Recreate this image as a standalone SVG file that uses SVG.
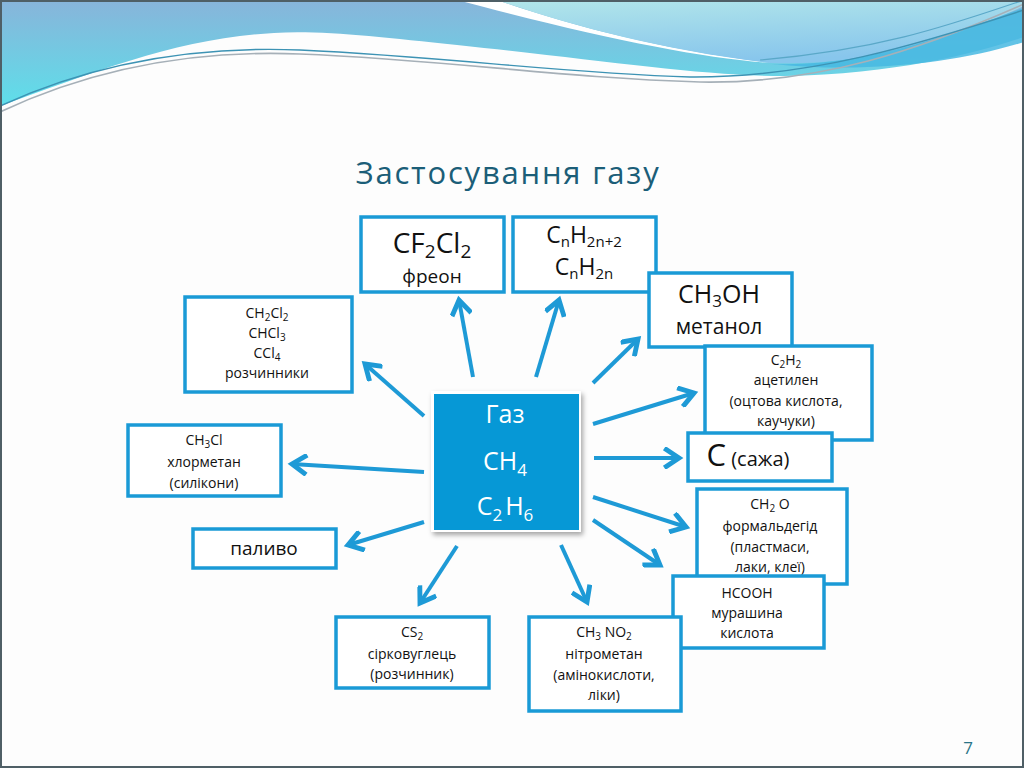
<svg xmlns="http://www.w3.org/2000/svg" width="1024" height="768" viewBox="0 0 1024 768">
<defs>
<linearGradient id="gMain" x1="0" y1="0" x2="0" y2="1">
<stop offset="0" stop-color="#88b4da"/>
<stop offset="1" stop-color="#5edfea"/>
</linearGradient>
<linearGradient id="gUR" x1="0" y1="0" x2="0.3" y2="1">
<stop offset="0" stop-color="#b2e6ea"/>
<stop offset="1" stop-color="#88c6ec"/>
</linearGradient>
<marker id="ah" markerUnits="userSpaceOnUse" markerWidth="22" markerHeight="22" viewBox="-14 -9 18 18" refX="0" refY="0" orient="auto">
<path d="M-12,-8 L0,0 L-12,8" fill="none" stroke="#1e9ad6" stroke-width="4" stroke-linejoin="miter"/>
</marker>
<filter id="sh" x="-10%" y="-10%" width="130%" height="130%">
<feDropShadow dx="2" dy="3" stdDeviation="2.5" flood-color="#000" flood-opacity="0.35"/>
</filter>
</defs>
<style>
.box{fill:#fff;stroke:#1a9ad6;stroke-width:3.5}
.t{font-family:"Open Sans","Liberation Sans",sans-serif;fill:#111;text-anchor:middle}
.s{font-size:14px}
.arr{stroke:#1e9ad6;stroke-width:4;fill:none;marker-end:url(#ah)}
.w{fill:#fff;font-family:"Open Sans","Liberation Sans",sans-serif;text-anchor:middle;font-size:25px}
</style>
<rect width="1024" height="768" fill="#fdfdfd"/>
<g id="header">
<path d="M0,0 L1024,0 L1024,37 C980,52 900,74 784,76 C700,76 600,60 457,45 C380,37 320,30 274,33 C180,38 100,70 0,106 Z" fill="url(#gMain)"/>
<path d="M457,0 L497,0 C560,22 650,48 771,63 C700,58 600,38 457,0 Z" fill="#fff"/>
<path d="M497,0 L1024,0 L1024,6 C950,40 870,66 771,63 C660,50 570,25 497,0 Z" fill="url(#gUR)"/>
<path d="M771,64 C870,68 960,30 1024,8 L1024,42 C960,62 870,74 771,64 Z" fill="#46b8e2" opacity="0.85"/>
<path d="M0,112 C100,65 200,50 300,54 C450,60 560,78 700,82 C820,84 920,50 1024,4" fill="none" stroke="#a6b0b8" stroke-width="1.6"/>
<path d="M0,106 C100,60 200,46 300,50 C450,57 560,73 690,77 C810,78 920,44 1024,10" fill="none" stroke="#3d93b4" stroke-width="1.4"/>
<path d="M760,60 C880,50 950,25 1024,0" fill="none" stroke="#5aa8c8" stroke-width="1.2"/>
</g>
<rect x="1" y="1" width="1022" height="766" fill="none" stroke="#4f5f66" stroke-width="2"/>
<text x="508" y="184" font-family="'Open Sans','Liberation Sans',sans-serif" font-size="31" letter-spacing="1.8" fill="#1b5e78" text-anchor="middle">Застосування газу</text>
<g id="connectors">
<line class="arr" x1="473" y1="377" x2="459" y2="300"/>
<line class="arr" x1="536" y1="377" x2="559" y2="300"/>
<line class="arr" x1="593" y1="383" x2="638" y2="339"/>
<line class="arr" x1="593" y1="424" x2="694" y2="393"/>
<line class="arr" x1="594" y1="458" x2="679" y2="458"/>
<line class="arr" x1="593" y1="497" x2="686" y2="527"/>
<line class="arr" x1="593" y1="520" x2="660" y2="565"/>
<line class="arr" x1="561" y1="545" x2="587" y2="602"/>
<line class="arr" x1="457" y1="546" x2="420" y2="603"/>
<line class="arr" x1="424" y1="522" x2="348" y2="545"/>
<line class="arr" x1="424" y1="472" x2="292" y2="464"/>
<line class="arr" x1="424" y1="416" x2="365" y2="364"/>
</g>
<g id="gas">
<rect x="431" y="391" width="150" height="141" fill="#fff" filter="url(#sh)"/>
<rect x="434" y="394" width="145" height="136" fill="#0698d6"/>
<text class="w" x="505" y="423">Газ</text>
<text class="w" x="505" y="470">CH<tspan font-size="17" dy="6">4</tspan></text>
<text class="w" x="505" y="515">C<tspan font-size="17" dy="6">2</tspan><tspan dx="3" dy="-6">H</tspan><tspan font-size="17" dy="6">6</tspan></text>
</g>
<g id="freon">
<rect class="box" x="361" y="217" width="143" height="75"/>
<text class="t" x="432" y="253" font-size="28">CF<tspan font-size="19" dy="5">2</tspan><tspan dy="-5">Cl</tspan><tspan font-size="19" dy="5">2</tspan></text>
<text class="t" x="432" y="283" font-size="19">фреон</text>
</g>
<g id="alkanes">
<rect class="box" x="513" y="217" width="143" height="75"/>
<text class="t" x="584" y="243" font-size="23">C<tspan font-size="15" dy="4">n</tspan><tspan dy="-4">H</tspan><tspan font-size="15" dy="4">2n+2</tspan></text>
<text class="t" x="584" y="275" font-size="23">C<tspan font-size="15" dy="4">n</tspan><tspan dy="-4">H</tspan><tspan font-size="15" dy="4">2n</tspan></text>
</g>
<g id="methanol">
<rect class="box" x="649" y="273" width="143" height="74"/>
<text class="t" x="719" y="303" font-size="25">CH<tspan font-size="17" dy="4">3</tspan><tspan dy="-4">OH</tspan></text>
<text class="t" x="719" y="334" font-size="21">метанол</text>
</g>
<g id="acetylene">
<rect class="box" x="705" y="346" width="167" height="94"/>
<text class="t s" x="786" y="365">C<tspan font-size="10" dy="3">2</tspan><tspan dy="-3">H</tspan><tspan font-size="10" dy="3">2</tspan></text>
<text class="t s" x="786" y="385">ацетилен</text>
<text class="t s" x="786" y="406">(оцтова кислота,</text>
<text class="t s" x="786" y="426">каучуки)</text>
</g>
<g id="soot">
<rect class="box" x="688" y="433" width="144" height="48"/>
<text class="t" x="748" y="466"><tspan font-size="31">C</tspan><tspan font-size="20"> (сажа)</tspan></text>
</g>
<g id="formaldehyde">
<rect class="box" x="697" y="489" width="150" height="95"/>
<text class="t s" x="770" y="509">CH<tspan font-size="10" dy="3">2</tspan><tspan dy="-3"> O</tspan></text>
<text class="t s" x="770" y="531">формальдегід</text>
<text class="t s" x="770" y="552">(пластмаси,</text>
<text class="t s" x="770" y="572">лаки, клеї)</text>
</g>
<g id="formic">
<rect class="box" x="673" y="576" width="151" height="72"/>
<text class="t s" x="747" y="598">HCOOH</text>
<text class="t s" x="747" y="618">мурашина</text>
<text class="t s" x="747" y="638">кислота</text>
</g>
<g id="nitromethane">
<rect class="box" x="529" y="617" width="152" height="94"/>
<text class="t s" x="604" y="637">CH<tspan font-size="10" dy="3">3</tspan><tspan dy="-3"> NO</tspan><tspan font-size="10" dy="3">2</tspan></text>
<text class="t s" x="604" y="659">нітрометан</text>
<text class="t s" x="604" y="680">(амінокислоти,</text>
<text class="t s" x="604" y="700">ліки)</text>
</g>
<g id="cs2">
<rect class="box" x="336" y="617" width="153" height="71"/>
<text class="t s" x="412" y="637">CS<tspan font-size="10" dy="3">2</tspan></text>
<text class="t s" x="412" y="659">сірковуглець</text>
<text class="t s" x="412" y="679">(розчинник)</text>
</g>
<g id="fuel">
<rect class="box" x="193" y="529" width="143" height="39"/>
<text class="t" x="264" y="555" font-size="19">паливо</text>
</g>
<g id="chloromethane">
<rect class="box" x="128" y="425" width="153" height="71"/>
<text class="t s" x="204" y="445">CH<tspan font-size="10" dy="3">3</tspan><tspan dy="-3">Cl</tspan></text>
<text class="t s" x="204" y="467">хлорметан</text>
<text class="t s" x="204" y="488">(силікони)</text>
</g>
<g id="solvents">
<rect class="box" x="185" y="297" width="167" height="95"/>
<text class="t s" x="267" y="318">CH<tspan font-size="10" dy="3">2</tspan><tspan dy="-3">Cl</tspan><tspan font-size="10" dy="3">2</tspan></text>
<text class="t s" x="267" y="338">CHCl<tspan font-size="10" dy="3">3</tspan></text>
<text class="t s" x="267" y="358">CCl<tspan font-size="10" dy="3">4</tspan></text>
<text class="t s" x="267" y="378">розчинники</text>
</g>
<text x="968" y="754" font-family="'Open Sans','Liberation Sans',sans-serif" font-size="17" fill="#2a7588" text-anchor="middle">7</text>
</svg>
